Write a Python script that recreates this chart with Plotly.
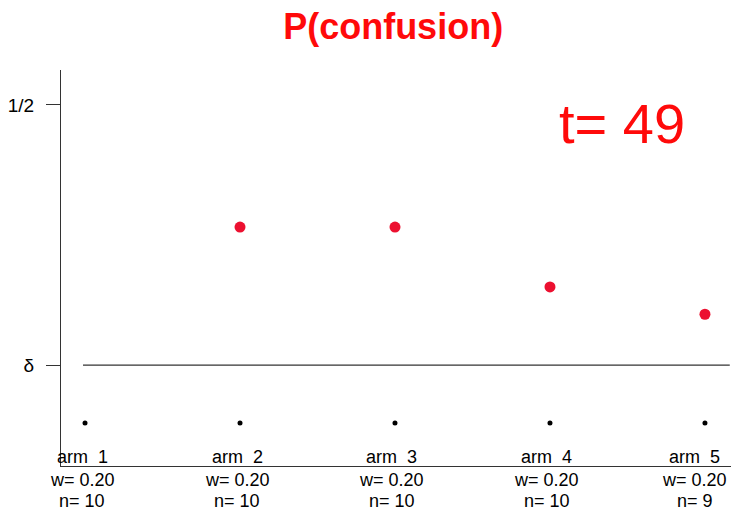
import plotly.graph_objects as go

# Arms and their current state
arms = [1, 2, 3, 4, 5]
weights = [0.20, 0.20, 0.20, 0.20, 0.20]
counts = [10, 10, 10, 10, 9]

# Estimated confusion probabilities (arm 1 has none)
p_confusion = [None, 0.308, 0.308, 0.214, 0.171]
baseline = [0, 0, 0, 0, 0]

DELTA = 0.091
HALF = 0.5
T_STEP = 49

# Extent of the delta reference line (in arm units)
delta_x = [0.987, 5.16]

x_range = [0.845, 5.168]
y_range = [-0.0676, 0.555]

fig = go.Figure()

fig.add_trace(go.Scatter(
    x=arms, y=baseline, mode="markers",
    marker=dict(color="black", size=5),
    hoverinfo="skip", showlegend=False, cliponaxis=False,
))
fig.add_trace(go.Scatter(
    x=arms, y=p_confusion, mode="markers",
    marker=dict(color="#EC1030", size=11),
    showlegend=False, cliponaxis=False,
))

# delta reference line
fig.add_shape(type="line", xref="x", yref="y",
              x0=delta_x[0], x1=delta_x[1], y0=DELTA, y1=DELTA,
              line=dict(color="#333333", width=1.3))

# arm labels below the plot
font = dict(family="Liberation Sans, Arial, sans-serif", size=18, color="black")
for i, (a, w, n) in enumerate(zip(arms, weights, counts)):
    xs = -10 if i == len(arms) - 1 else -3
    for text, ys in ((f"arm  {a}", 9), (f"w= {w:.2f}", -14), (f"n= {n}", -35)):
        fig.add_annotation(x=a, y=0, xref="x", yref="paper", text=text,
                           showarrow=False, xanchor="center", yanchor="middle",
                           xshift=xs, yshift=ys, font=font)

# time step label
fig.add_annotation(x=0.838, y=0.866, xref="paper", yref="paper",
                   text=f"t= {T_STEP}", showarrow=False,
                   xanchor="center", yanchor="middle",
                   font=dict(family="Liberation Sans, Arial, sans-serif", size=56, color="#FF0A0A"))

fig.update_layout(
    width=739, height=512,
    margin=dict(l=61, r=8, t=70, b=46),
    paper_bgcolor="white", plot_bgcolor="white",
    title=dict(text="<b>P(confusion)</b>", x=0.532, xanchor="center",
               y=0.948, yanchor="middle",
               font=dict(family="Liberation Sans, Arial, sans-serif", size=36, color="#FF0A0A")),
    xaxis=dict(range=x_range, showgrid=False, zeroline=False, showticklabels=False,
               ticks="", showline=True, linecolor="#333333", linewidth=1.3),
    yaxis=dict(range=y_range, showgrid=False, zeroline=False,
               tickvals=[HALF, DELTA], ticktext=["1/2", "δ"],
               ticks="outside", ticklen=14, tickcolor="#333333", tickwidth=1.3,
               ticklabelstandoff=8,
               tickfont=dict(family="Liberation Sans, Arial, sans-serif", size=19, color="black"),
               showline=True, linecolor="#333333", linewidth=1.3),
)

fig.write_html("out.html")
